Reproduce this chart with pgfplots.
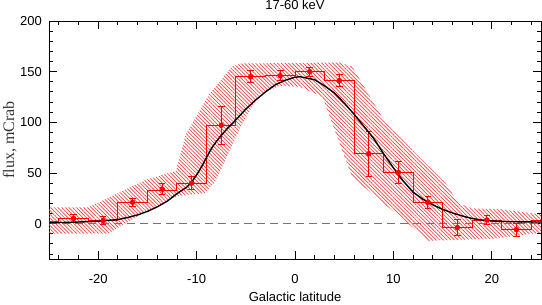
\documentclass[border=0pt]{standalone}
\usepackage{fontspec}
\setmainfont{Liberation Sans}
\newfontfamily\seriffont{Liberation Serif}
\usepackage{pgfplots}
\pgfplotsset{compat=1.18}
\usetikzlibrary{patterns,patterns.meta}

\pgfplotstableread{
x y e
-22.5 5 4
-19.5 3 4
-16.5 21 4
-13.5 34 5.5
-10.5 40 6.5
-7.5 97 18.5
-4.5 145 6
-1.5 146 5
1.5 150 4.5
4.5 141 6
7.5 69 22
10.5 50.5 10.5
13.5 21 6
16.5 -4 8
19.5 3.5 4.5
22.5 -6 6.5
}\pts

\begin{document}
\begin{tikzpicture}[x=1bp,y=1bp]
\path[use as bounding box] (0,0) rectangle (542,304);
\begin{axis}[
  at={(49bp,45bp)}, anchor=south west,
  width=492bp, height=238bp, scale only axis,
  xmin=-25, xmax=25, ymin=-35, ymax=200,
  xtick={-20,-10,0,10,20}, minor xtick={-24,-22,...,24},
  ytick={0,50,100,150,200}, minor ytick={-30,-20,...,190},
  xtick pos=both, ytick pos=both,
  tick align=inside,
  major tick length=8bp, minor tick length=4bp,
  every tick/.style={black, line width=0.8bp},
  axis line style={line width=0.8bp},
  tick label style={font=\fontsize{13bp}{15bp}\selectfont},
  xticklabel style={anchor=base, yshift=-24bp, inner sep=0pt},
  yticklabel style={anchor=east, xshift=-7bp, inner sep=0pt},
  /pgf/number format/assume math mode=true,
  every axis title/.style={at={(axis description cs:0.5,1)}, anchor=base, yshift=11bp, font=\fontsize{13bp}{15bp}\selectfont},
  every axis x label/.style={at={(axis description cs:0.5,0)}, anchor=base, yshift=-42bp, inner sep=0pt, font=\fontsize{13bp}{15bp}\selectfont},
  every axis y label/.style={at={([xshift=-35bp]axis description cs:0,0.5)}, rotate=90, anchor=base, inner sep=0pt, font=\seriffont\fontsize{16bp}{18bp}\selectfont, color=black!80},
  title={17-60 keV},
  xlabel={Galactic latitude},
  ylabel={flux, mCrab},
]
% uncertainty band
\addplot[draw=none, pattern={Lines[angle=-45, distance=2.6bp, line width=0.7bp]}, pattern color=red!75] coordinates {
(-25,16) (-21,16) (-15.2,43) (-12.1,52) (-11.1,88) (-8.7,128) (-6.4,155) (-5.5,158)
(4.5,159) (5.8,155) (7.2,132) (8.8,106) (11.9,73) (15.3,40) (16.6,20) (18,15) (21,14) (25,9)
(25,-9) (20,-15) (13.6,-17) (5.8,46) (2.8,125) (0.5,135) (-1.5,136) (-3.6,128) (-5.3,100)
(-7.4,56) (-8.2,40) (-9.2,30) (-12,27) (-15.5,10) (-19,-10) (-25,-10)
} -- cycle;
% zero line
\addplot[black!55, line width=0.8bp, dash pattern=on 8bp off 5bp] coordinates {(-25,0) (25,0)};
% histogram
\addplot[red, line width=1bp, const plot mark left] coordinates {
(-25,2) (-24,5) (-21,3) (-18,21) (-15,33) (-12,40) (-9,97) (-6,145) (-3,146)
(0,150) (3,141) (6,69) (9,50.6) (12,21) (15,-4) (18,2.7) (21,-6) (24,3) (25,3)
};
% data points with errors
\addplot[red, only marks, mark=*, mark size=2.3bp, line width=0.8bp,
  error bars/.cd, y dir=both, y explicit,
  error bar style={red, line width=0.8bp},
  error mark options={rotate=90, mark size=3.3bp, red, line width=0.8bp}]
  table[x=x, y=y, y error=e] {\pts};
% model curve
\addplot[black, line width=1.4bp] coordinates {
(-25,0.7) (-22,1.5) (-20,2.3) (-18,4) (-17,6) (-16,8.5) (-15,12) (-14,16.5) (-13,22)
(-12,29.5) (-11,36) (-10.5,41) (-10,48) (-9.5,56) (-9,65) (-8.5,74) (-8,81) (-7.5,87)
(-7,92.5) (-6,102.5) (-5,113) (-4,122) (-3,130) (-2,137) (-1,141.5) (0,144.5) (0.5,145) (1,144)
(2,142) (3,136) (4,129) (5,119) (6,108) (7,96) (7.5,90) (8,84) (9,69) (10,55) (11,42)
(12,31) (13,24) (14,18.5) (15,14) (16,10.5) (17,7.5) (18,5) (19,3.5) (20,2.5) (22,1.8) (25,1.5)
};
\end{axis}
\end{tikzpicture}
\end{document}
